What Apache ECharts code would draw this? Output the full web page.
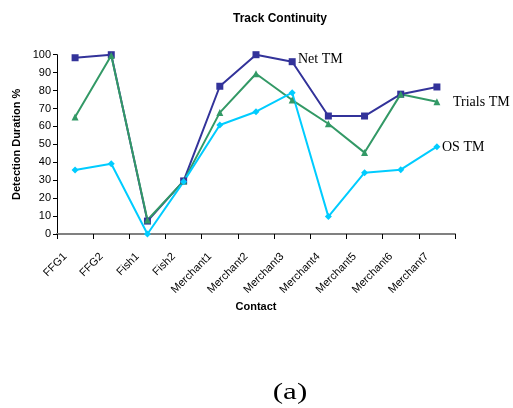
<!DOCTYPE html>
<html>
<head>
<meta charset="utf-8">
<script src="https://cdn.jsdelivr.net/npm/echarts@6/dist/echarts.min.js"></script>
<style>
  html, body { margin: 0; padding: 0; background: #fff; }
  #chart { width: 513px; height: 408px; }
</style>
</head>
<body>
<div id="chart"></div>
<script>
// Contacts along the x axis
const contacts = ['FFG1', 'FFG2', 'Fish1', 'Fish2', 'Merchant1', 'Merchant2',
  'Merchant3', 'Merchant4', 'Merchant5', 'Merchant6', 'Merchant7'];

// Detection duration (%) per tracker
const netTM = [98.3, 100, 7.2, 29.6, 82.4, 100, 96.1, 65.8, 65.8, 78, 82];
const trialsTM = [65.2, 99.6, 7.8, 29.5, 67.7, 89.4, 74.7, 61.5, 45.4, 78, 73.8];
const osTM = [35.7, 39.2, 0, 29.2, 60.8, 68.2, 78.8, 9.7, 34.2, 35.9, 48.7];

// Y axis ticks
const yTicks = { min: 0, max: 100, interval: 10 };

const sans = 'Liberation Sans, Arial, sans-serif';
const serif = '"Liberation Serif", "Times New Roman", serif';

const chart = echarts.init(document.getElementById('chart'), null, { renderer: 'canvas' });

const seriesStyle = (name, data, color, symbol, size) => ({
  name, type: 'line', data,
  symbol, symbolSize: size,
  lineStyle: { color, width: 2 },
  itemStyle: { color },
  animation: false
});

chart.setOption({
  backgroundColor: '#fff',
  title: {
    text: 'Track Continuity',
    left: 275, top: 8, textAlign: 'center',
    textStyle: { fontFamily: sans, fontSize: 12, fontWeight: 'bold', color: '#000' }
  },
  grid: { left: 57, right: 58, top: 54.7, bottom: 174, containLabel: false },
  xAxis: {
    type: 'category',
    data: contacts,
    boundaryGap: true,
    name: 'Contact',
    nameLocation: 'middle',
    nameGap: 67,
    nameMoveOverlap: false,
    nameTextStyle: { fontFamily: sans, fontSize: 11, fontWeight: 'bold', color: '#000' },
    axisLine: { lineStyle: { color: '#808080', width: 2 } },
    axisTick: { show: true, inside: false, length: 5, lineStyle: { color: '#000', width: 1 } },
    axisLabel: {
      rotate: 45, interval: 0, margin: 11,
      padding: [0, 14, 0, 0],
      fontFamily: sans, fontSize: 11, color: '#000'
    },
    splitLine: { show: false }
  },
  yAxis: {
    type: 'value',
    min: yTicks.min, max: yTicks.max, interval: yTicks.interval,
    name: 'Detection Duration %',
    nameLocation: 'middle',
    nameGap: 35,
    nameMoveOverlap: false,
    nameTextStyle: { fontFamily: sans, fontSize: 11, fontWeight: 'bold', color: '#000' },
    axisLine: { show: true, lineStyle: { color: '#000', width: 1 } },
    axisTick: { show: true, inside: false, length: 4, lineStyle: { color: '#000' } },
    axisLabel: { margin: 6, fontFamily: sans, fontSize: 11, color: '#000' },
    splitLine: { show: false }
  },
  series: [
    seriesStyle('Net TM', netTM, '#33339a', 'rect', 7),
    seriesStyle('Trials TM', trialsTM, '#339966', 'triangle', 7),
    seriesStyle('OS TM', osTM, '#00ccff', 'diamond', 7)
  ],
  graphic: [
    { type: 'text', left: 298, top: 52, style: { text: 'Net TM', font: '14px ' + serif, fill: '#000' } },
    { type: 'text', left: 453, top: 95, style: { text: 'Trials TM', font: '14px ' + serif, fill: '#000' } },
    { type: 'text', left: 442, top: 140, style: { text: 'OS TM', font: '14px ' + serif, fill: '#000' } },
    {
      type: 'text', x: 290, y: 393, scaleX: 1.35,
      style: { text: '(a)', x: 0, y: 0, align: 'center', verticalAlign: 'middle', font: '23px ' + serif, fill: '#000' }
    }
  ]
});
</script>
</body>
</html>
